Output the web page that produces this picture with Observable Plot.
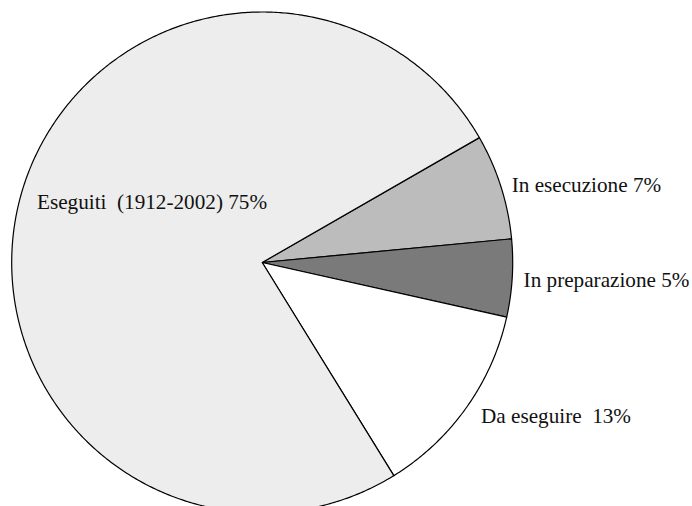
<!DOCTYPE html>
<html>
<head>
<meta charset="utf-8">
<script src="https://cdn.jsdelivr.net/npm/d3@7"></script>
<script src="https://cdn.jsdelivr.net/npm/@observablehq/plot@0.6"></script>
<style>
  html, body { margin: 0; padding: 0; background: #ffffff; }
  #chart { width: 692px; height: 506px; }
</style>
</head>
<body>
<div id="chart"></div>
<script>
// ---- data (in pie order, clockwise from the upper-right edge) ----
const categories = ["In esecuzione", "In preparazione", "Da eseguire", "Eseguiti (1912-2002)"];
const values = [6.8, 5.0, 12.7, 75.5];
const labels = ["In esecuzione 7%", "In preparazione 5%", "Da eseguire\u00a0 13%", "Eseguiti\u00a0 (1912-2002) 75%"];
const colors = ["#bcbcbc", "#7a7a7a", "#ffffff", "#ededed"];

// ---- layout ----
const R = 250.5;           // radius in scale units (1 unit = 1 px)
const startDeg = 29.9;     // angle of first edge, counter-clockwise from +x
// label anchors (scale units relative to centre)
const labelAt = [
  [249.5, 77.1],
  [261.4, -17.9],
  [218.8, -154.2],
  [-225.2, 59.8]
];

const total = d3.sum(values);
const pts = [];
let a0 = startDeg;
categories.forEach((c, i) => {
  const span = values[i] / total * 360;
  const a1 = a0 - span;
  pts.push({cat: c, x: 0, y: 0});
  const n = Math.max(2, Math.ceil(span / 0.5));
  for (let k = 0; k <= n; k++) {
    const a = (a0 + (a1 - a0) * k / n) * Math.PI / 180;
    pts.push({cat: c, x: R * Math.cos(a), y: R * Math.sin(a)});
  }
  a0 = a1;
});

const labelData = categories.map((c, i) => ({cat: c, text: labels[i], x: labelAt[i][0], y: labelAt[i][1]}));

const chart = Plot.plot({
  width: 692,
  height: 506,
  margin: 0,
  x: {domain: [-261.7, 430.3], axis: null},
  y: {domain: [-244, 262], axis: null},
  color: {domain: categories, range: colors},
  style: {background: "#ffffff"},
  marks: [
    Plot.line(pts, {
      x: "x", y: "y", z: "cat", fill: "cat",
      stroke: "#000000", strokeWidth: 1.2, curve: "linear-closed"
    }),
    Plot.text(labelData, {
      x: "x", y: "y", text: "text", textAnchor: "start",
      fontFamily: "Liberation Serif", fontSize: 21.2, fill: "#111111"
    })
  ]
});
document.getElementById("chart").appendChild(chart);
</script>
</body>
</html>
